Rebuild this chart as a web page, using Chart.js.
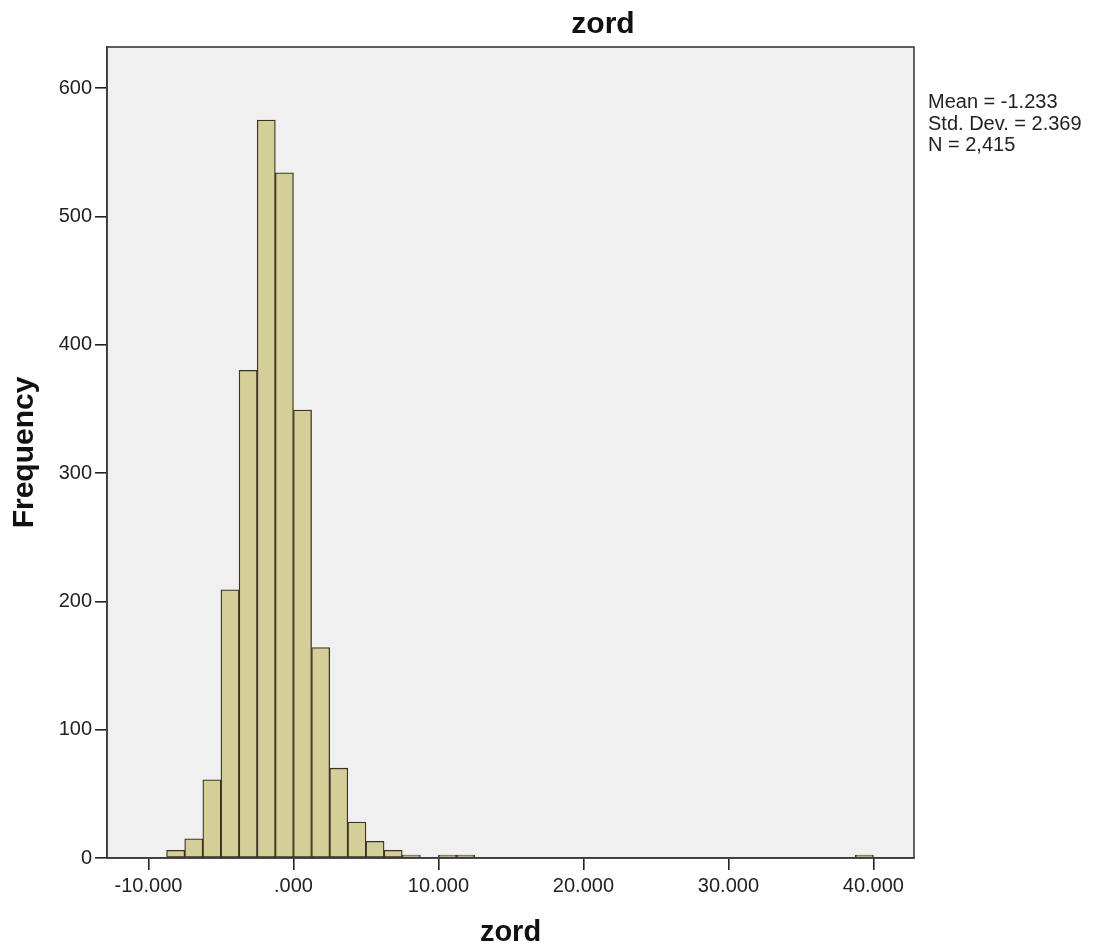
<!DOCTYPE html>
<html>
<head>
<meta charset="utf-8">
<script src="https://cdn.jsdelivr.net/npm/chart.js@4.4.0/dist/chart.umd.min.js"></script>
<style>
  html, body { margin: 0; padding: 0; background: #ffffff; }
  #wrap { width: 1100px; height: 951px; position: relative; }
</style>
</head>
<body>
<div id="wrap"><canvas id="c" width="1100" height="951"></canvas></div>
<script>
// ---- data (bin width 1.25) ----
const binStarts = [-8.75, -7.5, -6.25, -5, -3.75, -2.5, -1.25, 0, 1.25, 2.5, 3.75, 5, 6.25, 7.5, 10, 11.25, 38.75];
const binCounts = [6, 15, 61, 209, 380, 575, 534, 349, 164, 70, 28, 13, 6, 2, 1, 1, 1];
const binWidth = 1.25;
const xTickValues = [-10, 0, 10, 20, 30, 40];
const xTickLabels = ['-10.000', '.000', '10.000', '20.000', '30.000', '40.000'];
const yTickValues = [0, 100, 200, 300, 400, 500, 600];
const statLines = ['Mean = -1.233', 'Std. Dev. = 2.369', 'N = 2,415'];
const chartTitle = 'zord';
const xTitle = 'zord';
const yTitle = 'Frequency';

const points = binStarts.map((s, i) => ({ x: s + binWidth / 2, y: binCounts[i] }));

const frame = {
  id: 'frame',
  beforeDraw(chart) {
    const { ctx, chartArea: a } = chart;
    ctx.save();
    ctx.fillStyle = '#f0f0f0';
    ctx.fillRect(a.left, a.top, a.right - a.left, a.bottom - a.top);
    ctx.restore();
  },
  afterDraw(chart) {
    const { ctx, chartArea: a } = chart;
    ctx.save();
    ctx.strokeStyle = '#3a3a3a';
    ctx.lineWidth = 1.6;
    ctx.strokeRect(a.left, a.top, a.right - a.left, a.bottom - a.top);
    // title
    ctx.fillStyle = '#111';
    ctx.font = 'bold 30px "Liberation Sans", Arial, sans-serif';
    ctx.textAlign = 'center';
    ctx.textBaseline = 'alphabetic';
    ctx.fillText(chartTitle, 603, 33);
    // stats box text
    ctx.font = '20px "Liberation Sans", Arial, sans-serif';
    ctx.textAlign = 'left';
    ctx.fillStyle = '#222';
    statLines.forEach((t, i) => ctx.fillText(t, 928, 108 + i * 21.5));
    ctx.restore();
  }
};

new Chart(document.getElementById('c'), {
  type: 'bar',
  data: {
    datasets: [{
      data: points,
      backgroundColor: '#d4cf98',
      borderColor: '#3c3420',
      borderWidth: 1.3,
      borderSkipped: false,
      barPercentage: 1.0,
      categoryPercentage: 1.0,
      grouped: false,
      minBarLength: 3
    }]
  },
  options: {
    responsive: false,
    animation: false,
    devicePixelRatio: 1,
    layout: { padding: { top: 47, right: 186, left: 0, bottom: 0 } },
    plugins: {
      legend: { display: false },
      tooltip: { enabled: false },
      title: { display: false }
    },
    scales: {
      x: {
        type: 'linear',
        offset: false,
        min: -12.86,
        max: 42.8,
        afterFit(scale) { scale.height = 93; },
        afterBuildTicks(scale) { scale.ticks = xTickValues.map(v => ({ value: v })); },
        ticks: {
          includeBounds: false,
          autoSkip: false,
          maxRotation: 0,
          padding: 4,
          color: '#222',
          font: { size: 20, family: '"Liberation Sans", Arial, sans-serif' },
          callback: (v) => { const i = xTickValues.indexOf(v); return i >= 0 ? xTickLabels[i] : ''; }
        },
        grid: { offset: false, drawOnChartArea: false, drawTicks: true, tickLength: 12, color: '#222', lineWidth: 1.6 },
        border: { display: true, color: '#3a3a3a', width: 1.6 },
        title: {
          display: true, text: xTitle, color: '#111',
          font: { size: 29, weight: 'bold', family: '"Liberation Sans", Arial, sans-serif' },
          padding: { top: 0, bottom: 1 }
        }
      },
      y: {
        type: 'linear',
        min: 0,
        max: 632,
        afterFit(scale) { scale.width = 107; },
        afterBuildTicks(scale) { scale.ticks = yTickValues.map(v => ({ value: v })); },
        ticks: {
          includeBounds: false,
          padding: 3,
          color: '#222',
          font: { size: 20, family: '"Liberation Sans", Arial, sans-serif' }
        },
        grid: { drawOnChartArea: false, drawTicks: true, tickLength: 12, color: '#222', lineWidth: 1.6 },
        border: { display: true, color: '#3a3a3a', width: 1.6 },
        title: {
          display: true, text: yTitle, color: '#111',
          font: { size: 30, weight: 'bold', family: '"Liberation Sans", Arial, sans-serif' },
          padding: { top: 7, bottom: 0 }
        }
      }
    }
  },
  plugins: [frame]
});
</script>
</body>
</html>
